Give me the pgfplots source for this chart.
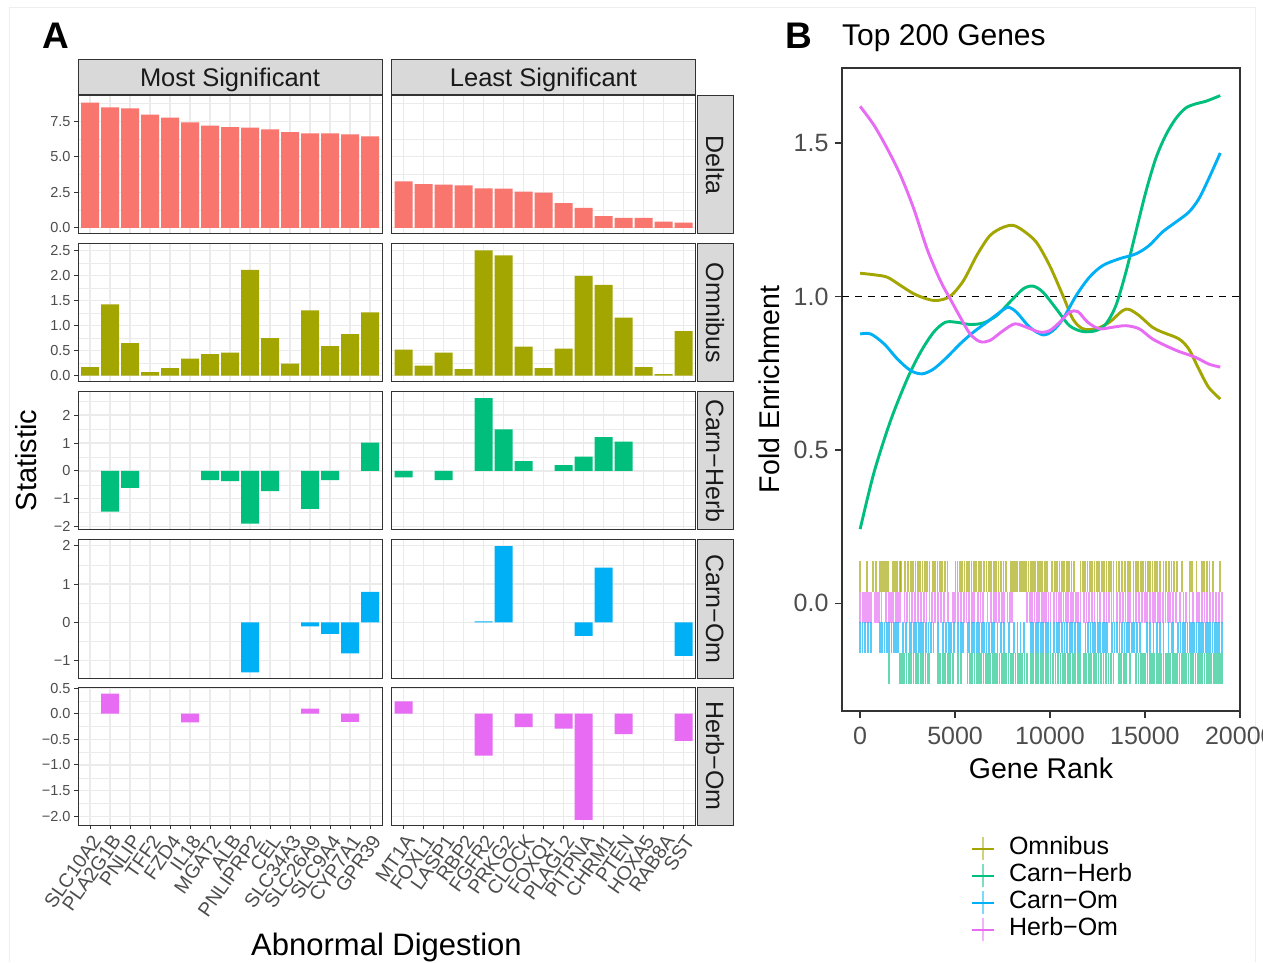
\documentclass[border=0pt]{standalone}
\usepackage{fontspec}
\setmainfont{Liberation Sans}
\usepackage{pgfplots}
\pgfplotsset{compat=1.18}
\definecolor{cDelta}{HTML}{F8766D}
\definecolor{cOm}{HTML}{A3A500}
\definecolor{cCH}{HTML}{00BF7D}
\definecolor{cCO}{HTML}{00B0F6}
\definecolor{cHO}{HTML}{E76BF3}
\definecolor{grey92}{HTML}{EBEBEB}
\definecolor{grey85}{HTML}{D9D9D9}
\definecolor{grey20}{HTML}{333333}
\definecolor{grey30}{HTML}{4D4D4D}
\definecolor{grey10}{HTML}{1A1A1A}
\definecolor{frame}{HTML}{EEEEEE}
\newcommand{\fs}[1]{\fontsize{#1}{#1}\selectfont}
\pgfplotsset{
  facet/.style={
    scale only axis, width=304pt, height=138pt, anchor=south west,
    xmin=0.4, xmax=15.6, xtick={1,...,15}, xticklabels={},
    ybar, bar width=0.9,
    axis line style={draw=grey20, line width=1pt},
    xmajorgrids, ymajorgrids, yminorgrids,
    major grid style={draw=grey92, line width=1.3pt},
    minor grid style={draw=grey92, line width=0.6pt},
    tick align=outside, major tick length=4pt, minor tick length=0pt,
    tick style={draw=grey20, line width=1pt},
    tick pos=left, xmajorticks=false, yminorticks=false,
    yticklabel style={font=\fs{14.5}, text=grey30},
    xticklabel style={font=\fs{19.5}, text=grey30, rotate=55, anchor=north east, inner sep=3pt},
  },
  rightcol/.style={ymajorticks=false, yticklabels={}},
  bottomrow/.style={xmajorticks=true},
  rowDelta/.style={ymin=-0.44, ymax=9.29, ytick={0,2.5,5,7.5}, yticklabels={0.0,2.5,5.0,7.5}, minor ytick={1.25,3.75,6.25,8.75}},
  rowOm/.style={ymin=-0.125, ymax=2.625, ytick={0,0.5,1,1.5,2,2.5}, yticklabels={0.0,0.5,1.0,1.5,2.0,2.5}, minor ytick={0.25,0.75,1.25,1.75,2.25}},
  rowCH/.style={ymin=-2.12, ymax=2.83, ytick={-2,-1,0,1,2}, yticklabels={−2,−1,0,1,2}, minor ytick={-1.5,-0.5,0.5,1.5,2.5}},
  rowCO/.style={ymin=-1.45, ymax=2.15, ytick={-1,0,1,2}, yticklabels={−1,0,1,2}, minor ytick={-0.5,0.5,1.5}},
  rowHO/.style={ymin=-2.17, ymax=0.52, ytick={-2,-1.5,-1,-0.5,0,0.5}, yticklabels={−2.0,−1.5,−1.0,−0.5,0.0,0.5}, minor ytick={-1.75,-1.25,-0.75,-0.25,0.25}},
  legOm/.style={legend image code/.code={\draw[cOm,line width=2.8pt](0pt,0pt)--(22pt,0pt);\draw[cOm,opacity=.5,line width=1.8pt](11pt,-11.5pt)--(11pt,11.5pt);}},
  legCH/.style={legend image code/.code={\draw[cCH,line width=2.8pt](0pt,0pt)--(22pt,0pt);\draw[cCH,opacity=.5,line width=1.8pt](11pt,-11.5pt)--(11pt,11.5pt);}},
  legCO/.style={legend image code/.code={\draw[cCO,line width=2.8pt](0pt,0pt)--(22pt,0pt);\draw[cCO,opacity=.5,line width=1.8pt](11pt,-11.5pt)--(11pt,11.5pt);}},
  legHO/.style={legend image code/.code={\draw[cHO,line width=2.8pt](0pt,0pt)--(22pt,0pt);\draw[cHO,opacity=.5,line width=1.8pt](11pt,-11.5pt)--(11pt,11.5pt);}},
}
\begin{document}
\begin{tikzpicture}
\path[use as bounding box, fill=white] (0pt,0pt) rectangle (1263pt,962pt);
\draw[frame, line width=1pt] (9pt,0pt) -- (9pt,954pt) -- (1255pt,954pt) -- (1255pt,0pt);

% ---------- Row 1: Delta ----------
\begin{axis}[facet, rowDelta, at={(78pt,728pt)}]
\addplot[fill=cDelta, draw=none] coordinates {(1,8.83) (2,8.48) (3,8.41) (4,7.97) (5,7.76) (6,7.43) (7,7.20) (8,7.10) (9,7.06) (10,6.94) (11,6.75) (12,6.66) (13,6.66) (14,6.59) (15,6.45)};
\end{axis}
\begin{axis}[facet, rowDelta, rightcol, at={(391.5pt,728pt)}]
\addplot[fill=cDelta, draw=none] coordinates {(1,3.27) (2,3.08) (3,3.04) (4,2.99) (5,2.78) (6,2.76) (7,2.55) (8,2.48) (9,1.73) (10,1.40) (11,0.82) (12,0.70) (13,0.70) (14,0.44) (15,0.37)};
\end{axis}
% ---------- Row 2: Omnibus ----------
\begin{axis}[facet, rowOm, at={(78pt,580pt)}]
\addplot[fill=cOm, draw=none] coordinates {(1,0.17) (2,1.42) (3,0.65) (4,0.07) (5,0.15) (6,0.34) (7,0.43) (8,0.46) (9,2.11) (10,0.75) (11,0.24) (12,1.30) (13,0.59) (14,0.83) (15,1.26)};
\end{axis}
\begin{axis}[facet, rowOm, rightcol, at={(391.5pt,580pt)}]
\addplot[fill=cOm, draw=none] coordinates {(1,0.52) (2,0.20) (3,0.46) (4,0.13) (5,2.50) (6,2.40) (7,0.58) (8,0.15) (9,0.54) (10,1.99) (11,1.81) (12,1.16) (13,0.17) (14,0.03) (15,0.89)};
\end{axis}
% ---------- Row 3: Carn-Herb ----------
\begin{axis}[facet, rowCH, at={(78pt,432pt)}]
\addplot[fill=cCH, draw=none] coordinates {(2,-1.46) (3,-0.61) (7,-0.33) (8,-0.37) (9,-1.89) (10,-0.73) (12,-1.36) (13,-0.33) (15,1.01)};
\end{axis}
\begin{axis}[facet, rowCH, rightcol, at={(391.5pt,432pt)}]
\addplot[fill=cCH, draw=none] coordinates {(1,-0.23) (3,-0.33) (5,2.61) (6,1.49) (7,0.35) (9,0.21) (10,0.51) (11,1.21) (12,1.05)};
\end{axis}
% ---------- Row 4: Carn-Om ----------
\begin{axis}[facet, rowCO, at={(78pt,284pt)}]
\addplot[fill=cCO, draw=none] coordinates {(9,-1.30) (12,-0.10) (13,-0.30) (14,-0.81) (15,0.80)};
\end{axis}
\begin{axis}[facet, rowCO, rightcol, at={(391.5pt,284pt)}]
\addplot[fill=cCO, draw=none] coordinates {(5,0.03) (6,1.99) (10,-0.35) (11,1.43) (15,-0.87)};
\end{axis}
% ---------- Row 5: Herb-Om ----------
\begin{axis}[facet, rowHO, bottomrow, at={(78pt,137pt)},
  xticklabels={SLC10A2,PLA2G1B,PNLIP,TFF2,FZD4,IL18,MGAT2,ALB,PNLIPRP2,CEL,SLC34A3,SLC26A9,SLC9A4,CYP7A1,GPR39}]
\addplot[fill=cHO, draw=none] coordinates {(2,0.39) (6,-0.17) (12,0.10) (14,-0.16)};
\end{axis}
\begin{axis}[facet, rowHO, rightcol, bottomrow, at={(391.5pt,137pt)},
  xticklabels={MT1A,FOXL1,LASP1,RBP2,FGFR2,PRKG2,CLOCK,FOXQ1,PLAGL2,PITPNA,CHRM1,PTEN,HOXA5,RAB8A,SST}]
\addplot[fill=cHO, draw=none] coordinates {(1,0.24) (5,-0.82) (7,-0.26) (9,-0.29) (10,-2.07) (12,-0.40) (15,-0.53)};
\end{axis}

% ---------- strips ----------
\begin{scope}[line width=1pt]
\draw[grey20, fill=grey85] (78pt,867pt) rectangle (382pt,902pt);
\draw[grey20, fill=grey85] (391.5pt,867pt) rectangle (695.5pt,902pt);
\node[anchor=base, inner sep=0pt, text=grey10, font=\fs{25.5}] at (230pt,875.5pt) {Most Significant};
\node[anchor=base, inner sep=0pt, text=grey10, font=\fs{25.5}] at (543.5pt,875.5pt) {Least Significant};
\draw[grey20, fill=grey85] (697pt,728pt) rectangle (733pt,866pt);
\draw[grey20, fill=grey85] (697pt,580pt) rectangle (733pt,718pt);
\draw[grey20, fill=grey85] (697pt,432pt) rectangle (733pt,570pt);
\draw[grey20, fill=grey85] (697pt,284pt) rectangle (733pt,422pt);
\draw[grey20, fill=grey85] (697pt,137pt) rectangle (733pt,275pt);
\node[rotate=-90, anchor=base, inner sep=0pt, text=grey10, font=\fs{25}] at (706pt,797pt) {Delta};
\node[rotate=-90, anchor=base, inner sep=0pt, text=grey10, font=\fs{25}] at (706pt,649pt) {Omnibus};
\node[rotate=-90, anchor=base, inner sep=0pt, text=grey10, font=\fs{25}] at (706pt,501pt) {Carn−Herb};
\node[rotate=-90, anchor=base, inner sep=0pt, text=grey10, font=\fs{25}] at (706pt,353pt) {Carn−Om};
\node[rotate=-90, anchor=base, inner sep=0pt, text=grey10, font=\fs{25}] at (706pt,206pt) {Herb−Om};
\end{scope}

% ---------- labels panel A ----------
\node[anchor=base west, inner sep=0pt, font=\bfseries\fs{37}] at (42pt,913pt) {A};
\node[rotate=90, anchor=base, inner sep=0pt, font=\fs{29}] at (36.5pt,501.5pt) {Statistic};
\node[anchor=base, inner sep=0pt, font=\fs{31}] at (386.5pt,7pt) {Abnormal Digestion};

% ---------- Panel B ----------
\node[anchor=base west, inner sep=0pt, font=\bfseries\fs{37}] at (785pt,913pt) {B};
\node[anchor=base west, inner sep=0pt, font=\fs{30}] at (842pt,916.5pt) {Top 200 Genes};
\node[rotate=90, anchor=base, inner sep=0pt, font=\fs{28.5}] at (779pt,572.5pt) {Fold Enrichment};
\node[anchor=base, inner sep=0pt, font=\fs{28.5}] at (1041pt,184pt) {Gene Rank};

\begin{axis}[at={(842pt,251pt)}, anchor=south west, scale only axis, width=398pt, height=643pt,
  xmin=-955, xmax=20010, ymin=-0.351, ymax=1.745,
  xtick={0,5000,10000,15000,20000}, xticklabels={0,5000,10000,15000,20000}, scaled x ticks=false,
  ytick={0,0.5,1,1.5}, yticklabels={0.0,0.5,1.0,1.5},
  tick pos=left, tick align=outside, major tick length=7pt,
  axis line style={draw=grey20, line width=1.5pt},
  tick style={draw=grey20, line width=1.5pt},
  ticklabel style={font=\fs{25}, text=grey30},
  xticklabel style={yshift=-6pt},
  yticklabel style={xshift=-3pt},
  legend cell align=left,
  legend style={at={(0.3216,-0.194)}, anchor=north west, draw=none, fill=none, inner sep=0pt,
    font=\fs{25}, row sep=1pt, nodes={inner sep=1pt, text height=18pt, text depth=6pt},
    /tikz/every odd column/.append style={column sep=13pt}},
]
% rugs
\addplot[forget plot, only marks, mark=|, mark size=15.5pt, mark options={draw=cOm, line width=1.8pt, opacity=0.65}] coordinates {
(0,.0875) (380,.0875) (690,.0875) (850,.0875) (1040,.0875) (1150,.0875) (1260,.0875) (1380,.0875) (1460,.0875) (1740,.0875) (1850,.0875) (1960,.0875) (2080,.0875) (2160,.0875) (2350,.0875) (2510,.0875) (2700,.0875) (2800,.0875) (2920,.0875) (3040,.0875) (3150,.0875) (3280,.0875) (3400,.0875) (3520,.0875) (3650,.0875) (3830,.0875) (3950,.0875) (4070,.0875) (4200,.0875) (4330,.0875) (4450,.0875) (4600,.0875) (5020,.0875) (5130,.0875) (5260,.0875) (5380,.0875) (5500,.0875) (5610,.0875) (5750,.0875) (5870,.0875) (6000,.0875) (6120,.0875) (6240,.0875) (6360,.0875) (6540,.0875) (6660,.0875) (6790,.0875) (6900,.0875) (7030,.0875) (7150,.0875) (7290,.0875) (7420,.0875) (7550,.0875) (7670,.0875) (7940,.0875) (8050,.0875) (8160,.0875) (8280,.0875) (8400,.0875) (8510,.0875) (8630,.0875) (8750,.0875) (8870,.0875) (8990,.0875) (9110,.0875) (9230,.0875) (9350,.0875) (9470,.0875) (9600,.0875) (9730,.0875) (9850,.0875) (10120,.0875) (10250,.0875) (10370,.0875) (10500,.0875) (10620,.0875) (10750,.0875) (10880,.0875) (11000,.0875) (11130,.0875) (11250,.0875) (11610,.0875) (11730,.0875) (11850,.0875) (11980,.0875) (12100,.0875) (12230,.0875) (12350,.0875) (12480,.0875) (12600,.0875) (12730,.0875) (12850,.0875) (12980,.0875) (13090,.0875) (13200,.0875) (13350,.0875) (13500,.0875) (13650,.0875) (13800,.0875) (13950,.0875) (14100,.0875) (14230,.0875) (14400,.0875) (14520,.0875) (14650,.0875) (14780,.0875) (14900,.0875) (15030,.0875) (15150,.0875) (15280,.0875) (15400,.0875) (15530,.0875) (15650,.0875) (15800,.0875) (15980,.0875) (16100,.0875) (16250,.0875) (16400,.0875) (16550,.0875) (16680,.0875) (16940,.0875) (17380,.0875) (17500,.0875) (17720,.0875) (17990,.0875) (18100,.0875) (18250,.0875) (18400,.0875) (18600,.0875) (18950,.0875)};
\addplot[forget plot, only marks, mark=|, mark size=15.5pt, mark options={draw=cHO, line width=1.8pt, opacity=0.65}] coordinates {
(0,-.012) (160,-.012) (260,-.012) (360,-.012) (460,-.012) (590,-.012) (770,-.012) (900,-.012) (1000,-.012) (1120,-.012) (1380,-.012) (1500,-.012) (1620,-.012) (1750,-.012) (1870,-.012) (1990,-.012) (2080,-.012) (2340,-.012) (2470,-.012) (2600,-.012) (2750,-.012) (2900,-.012) (3040,-.012) (3220,-.012) (3360,-.012) (3500,-.012) (3650,-.012) (3800,-.012) (3950,-.012) (4090,-.012) (4270,-.012) (4420,-.012) (4610,-.012) (4880,-.012) (5000,-.012) (5140,-.012) (5310,-.012) (5450,-.012) (5600,-.012) (5740,-.012) (5880,-.012) (6010,-.012) (6190,-.012) (6340,-.012) (6480,-.012) (6710,-.012) (6890,-.012) (7030,-.012) (7170,-.012) (7320,-.012) (7460,-.012) (7590,-.012) (7760,-.012) (7900,-.012) (8020,-.012) (8810,-.012) (8930,-.012) (9060,-.012) (9180,-.012) (9300,-.012) (9430,-.012) (9560,-.012) (9680,-.012) (9800,-.012) (9920,-.012) (10030,-.012) (10210,-.012) (10340,-.012) (10460,-.012) (10590,-.012) (10710,-.012) (10840,-.012) (10960,-.012) (11090,-.012) (11220,-.012) (11350,-.012) (11480,-.012) (11610,-.012) (11780,-.012) (11920,-.012) (12060,-.012) (12200,-.012) (12350,-.012) (12500,-.012) (12650,-.012) (12830,-.012) (12980,-.012) (13110,-.012) (13240,-.012) (13350,-.012) (13530,-.012) (13680,-.012) (13830,-.012) (13980,-.012) (14120,-.012) (14230,-.012) (14400,-.012) (14550,-.012) (14700,-.012) (14850,-.012) (15000,-.012) (15100,-.012) (15280,-.012) (15410,-.012) (15550,-.012) (15680,-.012) (15810,-.012) (15950,-.012) (16080,-.012) (16210,-.012) (16330,-.012) (16500,-.012) (16640,-.012) (16850,-.012) (17030,-.012) (17180,-.012) (17350,-.012) (17550,-.012) (17730,-.012) (17870,-.012) (18000,-.012) (18140,-.012) (18280,-.012) (18420,-.012) (18600,-.012) (18750,-.012) (18900,-.012) (19040,-.012)};
\addplot[forget plot, only marks, mark=|, mark size=15.5pt, mark options={draw=cCO, line width=1.8pt, opacity=0.65}] coordinates {
(0,-.1115) (120,-.1115) (260,-.1115) (420,-.1115) (590,-.1115) (1030,-.1115) (1150,-.1115) (1280,-.1115) (1400,-.1115) (1530,-.1115) (1650,-.1115) (1780,-.1115) (1900,-.1115) (1990,-.1115) (2260,-.1115) (2400,-.1115) (2600,-.1115) (2690,-.1115) (2820,-.1115) (2950,-.1115) (3080,-.1115) (3200,-.1115) (3330,-.1115) (3460,-.1115) (3600,-.1115) (3730,-.1115) (3860,-.1115) (4090,-.1115) (4350,-.1115) (4530,-.1115) (4660,-.1115) (4800,-.1115) (4960,-.1115) (5140,-.1115) (5310,-.1115) (5400,-.1115) (5660,-.1115) (5750,-.1115) (5880,-.1115) (6010,-.1115) (6140,-.1115) (6270,-.1115) (6400,-.1115) (6530,-.1115) (6660,-.1115) (6800,-.1115) (6930,-.1115) (7060,-.1115) (7240,-.1115) (7400,-.1115) (7590,-.1115) (7850,-.1115) (8110,-.1115) (8290,-.1115) (8450,-.1115) (8640,-.1115) (8990,-.1115) (9120,-.1115) (9250,-.1115) (9380,-.1115) (9510,-.1115) (9640,-.1115) (9770,-.1115) (9900,-.1115) (10030,-.1115) (10210,-.1115) (10350,-.1115) (10480,-.1115) (10620,-.1115) (10760,-.1115) (10900,-.1115) (11040,-.1115) (11180,-.1115) (11320,-.1115) (11460,-.1115) (11600,-.1115) (11870,-.1115) (12000,-.1115) (12130,-.1115) (12260,-.1115) (12390,-.1115) (12520,-.1115) (12650,-.1115) (12780,-.1115) (12900,-.1115) (13000,-.1115) (13270,-.1115) (13400,-.1115) (13530,-.1115) (13660,-.1115) (13790,-.1115) (13920,-.1115) (14050,-.1115) (14180,-.1115) (14310,-.1115) (14440,-.1115) (14570,-.1115) (14750,-.1115) (15100,-.1115) (15250,-.1115) (15450,-.1115) (15630,-.1115) (15800,-.1115) (15980,-.1115) (16240,-.1115) (16400,-.1115) (16500,-.1115) (16760,-.1115) (16880,-.1115) (17000,-.1115) (17120,-.1115) (17240,-.1115) (17360,-.1115) (17480,-.1115) (17600,-.1115) (17720,-.1115) (17840,-.1115) (17960,-.1115) (18080,-.1115) (18200,-.1115) (18320,-.1115) (18440,-.1115) (18560,-.1115) (18680,-.1115) (18800,-.1115) (18920,-.1115) (19040,-.1115)};
\addplot[forget plot, only marks, mark=|, mark size=15.5pt, mark options={draw=cCH, line width=1.8pt, opacity=0.6}] coordinates {
(1520,-.2125) (2080,-.2125) (2200,-.2125) (2320,-.2125) (2440,-.2125) (2560,-.2125) (2690,-.2125) (2810,-.2125) (2940,-.2125) (3060,-.2125) (3190,-.2125) (3310,-.2125) (3440,-.2125) (3560,-.2125) (3650,-.2125) (4090,-.2125) (4220,-.2125) (4350,-.2125) (4480,-.2125) (4610,-.2125) (4740,-.2125) (4880,-.2125) (5140,-.2125) (5310,-.2125) (5660,-.2125) (5780,-.2125) (5900,-.2125) (6020,-.2125) (6140,-.2125) (6260,-.2125) (6380,-.2125) (6500,-.2125) (6620,-.2125) (6740,-.2125) (6860,-.2125) (6980,-.2125) (7100,-.2125) (7220,-.2125) (7340,-.2125) (7460,-.2125) (7580,-.2125) (7700,-.2125) (7820,-.2125) (7940,-.2125) (8060,-.2125) (8180,-.2125) (8300,-.2125) (8420,-.2125) (8540,-.2125) (8660,-.2125) (8800,-.2125) (8990,-.2125) (9120,-.2125) (9250,-.2125) (9380,-.2125) (9510,-.2125) (9640,-.2125) (9770,-.2125) (9900,-.2125) (10030,-.2125) (10160,-.2125) (10290,-.2125) (10420,-.2125) (10550,-.2125) (10680,-.2125) (10810,-.2125) (10940,-.2125) (11070,-.2125) (11200,-.2125) (11330,-.2125) (11460,-.2125) (11600,-.2125) (11780,-.2125) (11910,-.2125) (12040,-.2125) (12170,-.2125) (12300,-.2125) (12430,-.2125) (12560,-.2125) (12690,-.2125) (12820,-.2125) (12950,-.2125) (13080,-.2125) (13210,-.2125) (13350,-.2125) (13620,-.2125) (13750,-.2125) (13880,-.2125) (14010,-.2125) (14230,-.2125) (14540,-.2125) (14660,-.2125) (14780,-.2125) (14900,-.2125) (15020,-.2125) (15140,-.2125) (15260,-.2125) (15380,-.2125) (15500,-.2125) (15620,-.2125) (15740,-.2125) (15860,-.2125) (15980,-.2125) (16100,-.2125) (16220,-.2125) (16340,-.2125) (16460,-.2125) (16580,-.2125) (16700,-.2125) (16820,-.2125) (16940,-.2125) (17060,-.2125) (17180,-.2125) (17300,-.2125) (17420,-.2125) (17540,-.2125) (17660,-.2125) (17780,-.2125) (17900,-.2125) (18020,-.2125) (18140,-.2125) (18260,-.2125) (18380,-.2125) (18500,-.2125) (18620,-.2125) (18740,-.2125) (18860,-.2125) (18960,-.2125) (19040,-.2125)};
% reference line
\addplot[forget plot, black, line width=1.4pt, dash pattern=on 7pt off 6pt] coordinates {(-955,1) (20010,1)};
% smooth curves
\addplot[forget plot, cOm, line width=2.9pt, smooth, tension=0.5] coordinates {(0,1.076) (733,1.071) (1431,1.063) (2129,1.036) (2827,1.009) (3525,0.992) (4049,0.987) (4747,1.001) (5445,1.052) (6143,1.134) (6841,1.199) (7539,1.226) (8063,1.232) (8586,1.215) (9284,1.177) (9983,1.101) (10681,1.003) (11204,0.927) (11728,0.895) (12426,0.895) (13124,0.916) (13822,0.954) (14171,0.958) (14695,0.938) (15393,0.900) (15916,0.884) (16789,0.862) (17312,0.829) (17836,0.764) (18360,0.704) (18970,0.666)};
\addplot[forget plot, cCH, line width=2.9pt, smooth, tension=0.5] coordinates {(0,0.242) (733,0.427) (1606,0.596) (2478,0.731) (3176,0.818) (3874,0.884) (4485,0.916) (5096,0.916) (5794,0.909) (6492,0.914) (7190,0.938) (7888,0.982) (8586,1.025) (9110,1.034) (9634,1.014) (10332,0.960) (11030,0.905) (11728,0.886) (12426,0.889) (12949,0.911) (13473,0.971) (13997,1.079) (14520,1.210) (15044,1.340) (15567,1.449) (16091,1.525) (16614,1.579) (17138,1.614) (17661,1.628) (18185,1.636) (18970,1.655)};
\addplot[forget plot, cCO, line width=2.9pt, smooth, tension=0.5] coordinates {(0,0.878) (558,0.878) (1257,0.846) (1955,0.797) (2653,0.759) (3264,0.748) (3874,0.764) (4572,0.802) (5270,0.846) (5969,0.884) (6667,0.916) (7365,0.949) (7801,0.965) (8237,0.949) (8935,0.900) (9634,0.875) (10157,0.889) (10681,0.927) (11379,1.003) (12077,1.063) (12775,1.101) (13647,1.123) (14520,1.139) (15218,1.166) (15916,1.210) (16614,1.242) (17312,1.275) (17836,1.318) (18360,1.384) (18970,1.468)};
\addplot[forget plot, cHO, line width=2.9pt, smooth, tension=0.5] coordinates {(0,1.620) (733,1.558) (1431,1.482) (2129,1.395) (2827,1.286) (3525,1.155) (4223,1.052) (4747,0.992) (5270,0.933) (5794,0.878) (6318,0.853) (6841,0.857) (7539,0.889) (8150,0.911) (8761,0.900) (9459,0.884) (9983,0.889) (10506,0.916) (11030,0.949) (11466,0.951) (11990,0.916) (12600,0.895) (13298,0.900) (13997,0.905) (14695,0.895) (15393,0.862) (16091,0.840) (16789,0.821) (17661,0.802) (18360,0.780) (18970,0.770)};
\addlegendimage{legOm}
\addlegendimage{legCH}
\addlegendimage{legCO}
\addlegendimage{legHO}
\legend{Omnibus,Carn−Herb,Carn−Om,Herb−Om}
\end{axis}
\end{tikzpicture}
\end{document}
